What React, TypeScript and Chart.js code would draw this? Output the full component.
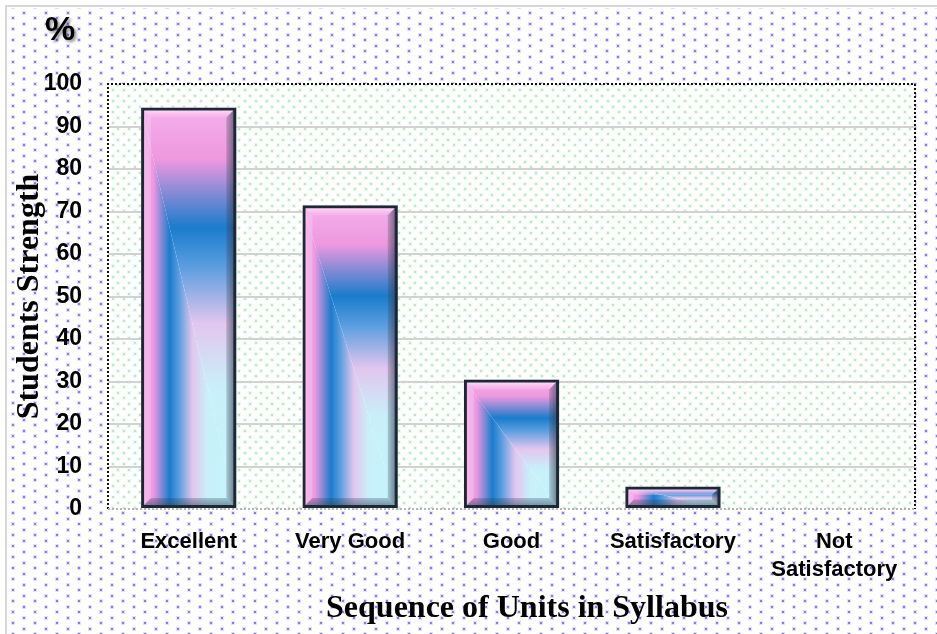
import React, { useEffect, useRef } from "react";
import { Chart, registerables } from "chart.js";

Chart.register(...registerables);

const categories: (string | string[])[] = ["Excellent", "Very Good", "Good", "Satisfactory", ["Not", "Satisfactory"]];
const values: number[] = [94.5, 71.5, 30.5, 5.3, 0];
const yMin = 0;
const yMax = 100;
const yStep = 10;
const yTitle = "Students Strength";
const xTitle = "Sequence of Units in Syllabus";
const unitLabel = "%";

function makeTile(w: number, h: number, dots: [number, number][], color: string, halo: string) {
  const c = document.createElement("canvas");
  c.width = w;
  c.height = h;
  const g = c.getContext("2d")!;
  for (const [x, y] of dots) {
    g.fillStyle = halo;
    g.fillRect(x - 1, y - 1, 4, 4);
    g.fillStyle = color;
    g.fillRect(x, y, 2, 2);
  }
  return c;
}

const stops: [number, string][] = [
  [0, "#f4b0ea"],
  [0.13, "#ee98e0"],
  [0.3, "#1a7ccc"],
  [0.4, "#5c9ee0"],
  [0.54, "#e2c6ee"],
  [0.7, "#c8f0fa"],
  [1, "#c6f4fb"],
];

function addStops(gr: CanvasGradient) {
  for (const [o, c] of stops) gr.addColorStop(o, c);
}

const barPlugin = {
  id: "barFx",
  beforeDraw(chart: any) {
    const { ctx, chartArea: a, width, height } = chart;
    ctx.save();
    ctx.fillStyle = "#ffffff";
    ctx.fillRect(0, 0, width, height);
    const purple = ctx.createPattern(makeTile(22, 11, [[1, 1], [12, 6]], "#8a7aee", "#e4defc"), "repeat");
    ctx.fillStyle = purple;
    ctx.fillRect(8, 8, width - 8, height - 8);
    ctx.fillStyle = "#ffffff";
    ctx.fillRect(a.left, a.top, a.width, a.height);
    const green = ctx.createPattern(makeTile(11, 11, [[2, 1], [7, 7]], "#b8ecc0", "#eefaf0"), "repeat");
    ctx.fillStyle = green;
    ctx.fillRect(a.left, a.top, a.width, a.height);
    ctx.fillStyle = "#d6d6d6";
    ctx.fillRect(5, 5, 2, height);
    ctx.fillRect(5, 5, width, 2);
    // unit label
    ctx.save();
    ctx.font = "bold 34px 'Liberation Sans', Arial, sans-serif";
    ctx.textAlign = "center";
    ctx.textBaseline = "middle";
    ctx.shadowColor = "rgba(0,0,0,0.45)";
    ctx.shadowBlur = 3;
    ctx.shadowOffsetX = 2;
    ctx.shadowOffsetY = 2;
    ctx.fillStyle = "#000";
    ctx.fillText(unitLabel, 60, 31);
    ctx.restore();
    // x axis title
    ctx.font = "bold 32px 'Liberation Serif', 'Times New Roman', serif";
    ctx.textAlign = "center";
    ctx.textBaseline = "middle";
    ctx.fillStyle = "#000";
    ctx.fillText(xTitle, 527, 609);
    ctx.restore();
  },
  beforeDatasetsDraw(chart: any) {
    const { ctx, chartArea: a } = chart;
    ctx.save();
    // plot area borders
    ctx.lineWidth = 2;
    ctx.setLineDash([2, 2]);
    ctx.strokeStyle = "#111";
    ctx.beginPath();
    ctx.moveTo(a.left, a.bottom);
    ctx.lineTo(a.left, a.top);
    ctx.lineTo(a.right, a.top);
    ctx.lineTo(a.right, a.bottom);
    ctx.stroke();
    ctx.strokeStyle = "#b4b4b4";
    ctx.beginPath();
    ctx.moveTo(a.left, a.bottom);
    ctx.lineTo(a.right, a.bottom);
    ctx.stroke();
    ctx.setLineDash([]);

    const meta = chart.getDatasetMeta(0);
    meta.data.forEach((el: any) => {
      const L = el.x - el.width / 2;
      const R = el.x + el.width / 2;
      const T = Math.min(el.y, el.base);
      const B = Math.max(el.y, el.base);
      const w = R - L;
      const h = B - T;
      if (h < 1) return;
      ctx.save();
      ctx.beginPath();
      ctx.moveTo(L, T);
      ctx.lineTo(R, T);
      ctx.lineTo(R, B);
      ctx.closePath();
      ctx.clip();
      const gv = ctx.createLinearGradient(0, T, 0, B);
      addStops(gv);
      ctx.fillStyle = gv;
      ctx.fillRect(L, T, w, h);
      ctx.restore();
      ctx.save();
      ctx.beginPath();
      ctx.moveTo(L, T);
      ctx.lineTo(L, B);
      ctx.lineTo(R, B);
      ctx.closePath();
      ctx.clip();
      const gh = ctx.createLinearGradient(L, 0, R, 0);
      addStops(gh);
      ctx.fillStyle = gh;
      ctx.fillRect(L, T, w, h);
      ctx.restore();
      const b = Math.min(10, h / 2.5);
      ctx.save();
      ctx.beginPath();
      ctx.moveTo(L, T);
      ctx.lineTo(R, T);
      ctx.lineTo(R - b, T + b);
      ctx.lineTo(L + b, T + b);
      ctx.closePath();
      const gt = ctx.createLinearGradient(0, T, 0, T + b);
      gt.addColorStop(0, "rgba(255,245,255,0.95)");
      gt.addColorStop(1, "rgba(255,190,240,0.35)");
      ctx.fillStyle = gt;
      ctx.fill();
      ctx.beginPath();
      ctx.moveTo(L, T);
      ctx.lineTo(L + b, T + b);
      ctx.lineTo(L + b, B - b);
      ctx.lineTo(L, B);
      ctx.closePath();
      ctx.fillStyle = "rgba(255,235,255,0.22)";
      ctx.fill();
      ctx.beginPath();
      ctx.moveTo(R, T);
      ctx.lineTo(R, B);
      ctx.lineTo(R - b, B - b);
      ctx.lineTo(R - b, T + b);
      ctx.closePath();
      const gr = ctx.createLinearGradient(R - b - 4, 0, R, 0);
      gr.addColorStop(0, "rgba(60,70,90,0.05)");
      gr.addColorStop(1, "rgba(40,50,70,0.7)");
      ctx.fillStyle = gr;
      ctx.fill();
      ctx.beginPath();
      ctx.moveTo(L, B);
      ctx.lineTo(R, B);
      ctx.lineTo(R - b, B - b);
      ctx.lineTo(L + b, B - b);
      ctx.closePath();
      const gb = ctx.createLinearGradient(0, B - b, 0, B);
      gb.addColorStop(0, "rgba(40,60,90,0.25)");
      gb.addColorStop(1, "rgba(40,60,80,0.6)");
      ctx.fillStyle = gb;
      ctx.fill();
      ctx.restore();
    });
    ctx.restore();
  },
};

export default function App() {
  const ref = useRef<HTMLCanvasElement>(null);
  useEffect(() => {
    const canvas = ref.current!;
    const chart = new Chart(canvas, {
      type: "bar",
      data: {
        labels: categories as any,
        datasets: [
          {
            data: values,
            backgroundColor: "rgba(0,0,0,0)",
            borderColor: "#1c2836",
            borderWidth: 3,
            borderSkipped: false,
            barPercentage: 0.59,
            categoryPercentage: 1,
          },
        ],
      },
      options: {
        responsive: false,
        animation: false,
        devicePixelRatio: 1,
        layout: { padding: { top: 84, right: 22, left: 0, bottom: 0 } },
        plugins: { legend: { display: false }, tooltip: { enabled: false } },
        scales: {
          x: {
            grid: { display: false, drawTicks: false },
            border: { display: false },
            ticks: {
              color: "#000",
              padding: 19,
              maxRotation: 0,
              autoSkip: false,
              font: { family: "'Liberation Sans', Arial, sans-serif", size: 22, weight: "bold", lineHeight: 1.27 },
            },
            title: { display: false, text: xTitle },
            afterFit(scale: any) {
              scale.height = 125;
            },
          },
          y: {
            min: yMin,
            max: yMax,
            grid: {
              drawTicks: false,
              lineWidth: 2,
              color: (c: any) => (c.tick && (c.tick.value === yMin || c.tick.value === yMax) ? "rgba(0,0,0,0)" : "#d2d2d2"),
            },
            border: { display: false },
            ticks: {
              stepSize: yStep,
              color: "#000",
              padding: 26,
              font: { family: "'Liberation Sans', Arial, sans-serif", size: 23, weight: "bold" },
            },
            title: {
              display: true,
              text: yTitle,
              color: "#000",
              padding: { top: 11, bottom: 0 },
              font: { family: "'Liberation Serif', 'Times New Roman', serif", size: 32, weight: "bold" },
            },
            afterFit(scale: any) {
              scale.width = 108;
            },
          },
        },
      },
      plugins: [barPlugin],
    });
    return () => chart.destroy();
  }, []);
  return (
    <div style={{ position: "fixed", left: 0, top: 0, width: 937, height: 634 }}>
      <canvas ref={ref} width={937} height={634} style={{ display: "block", width: 937, height: 634 }} />
    </div>
  );
}
